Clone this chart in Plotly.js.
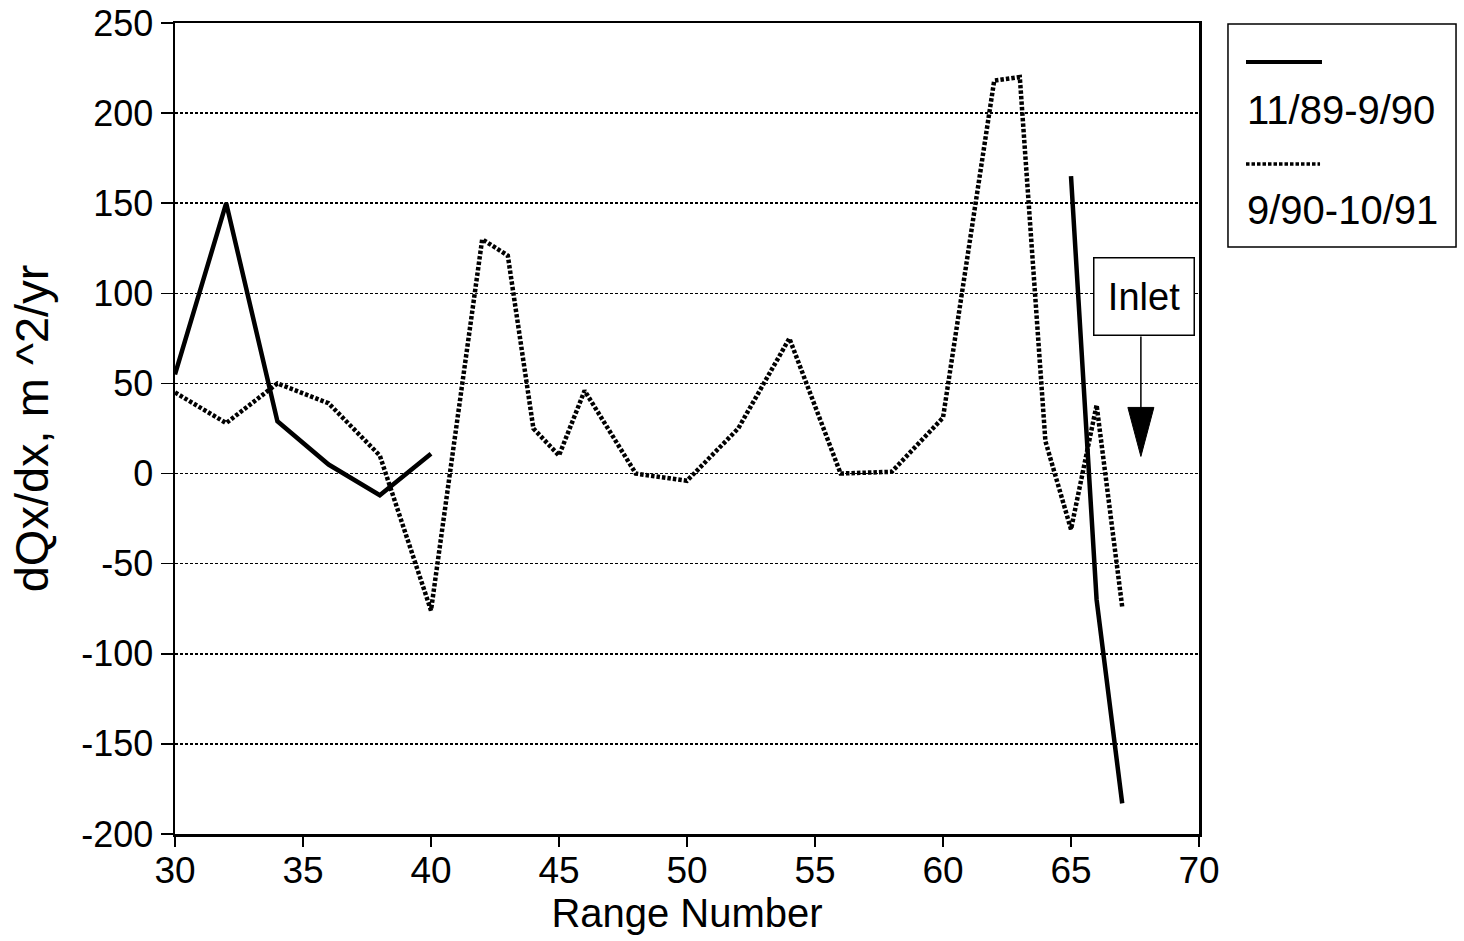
<!DOCTYPE html>
<html>
<head>
<meta charset="utf-8">
<script src="https://cdn.plot.ly/plotly-3.0.1.min.js"></script>
<style>
  html, body { margin: 0; padding: 0; background: #fff; }
  #chart { width: 1464px; height: 941px; }
</style>
</head>
<body>
<div id="chart"></div>
<script>
// Net longshore transport gradient along the beach, by range number
var seriesNames = ['11/89-9/90', '9/90-10/91'];

var rangeA = [30, 32, 34, 36, 38, 40, 41, 65, 66, 67];
var dqdxA  = [55, 150, 29, 5, -12, 11, null, 165, -70, -183];

var rangeB = [30, 32, 34, 36, 38, 40, 42, 43, 44, 45, 46, 48, 50, 52, 54, 56, 58, 60, 62, 63, 64, 65, 66, 67];
var dqdxB  = [45, 28, 50, 39, 10, -76, 130, 121, 25, 10, 46, 0, -4, 25, 75, 0, 1, 31, 218, 220, 18, -31, 38, -74];

var xTicks = [30, 35, 40, 45, 50, 55, 60, 65, 70];
var yTicks = [-200, -150, -100, -50, 0, 50, 100, 150, 200, 250];

// Inlet marker: label box with an arrow pointing down at the inlet position
var INLET_X = 67.73;
var INLET_TIP_Y = 9.5;

var FONT = 'Liberation Sans, Helvetica, Arial, sans-serif';
var DOTS = '3.5px,2px';

var traces = [
  {
    x: rangeA, y: dqdxA, name: seriesNames[0], type: 'scatter', mode: 'lines',
    connectgaps: false,
    line: { color: '#000', width: 4.5 }
  },
  {
    x: rangeB, y: dqdxB, name: seriesNames[1], type: 'scatter', mode: 'lines',
    line: { color: '#000', width: 4.5, dash: DOTS }
  }
];

var layout = {
  width: 1464, height: 941,
  margin: { l: 175, r: 265, t: 23, b: 107 },
  paper_bgcolor: '#fff', plot_bgcolor: '#fff',
  showlegend: false,
  font: { family: FONT, color: '#000', size: 36 },
  xaxis: {
    range: [30, 70], tickvals: xTicks, ticktext: xTicks.map(String),
    showgrid: false, zeroline: false,
    showline: true, mirror: true, linecolor: '#000', linewidth: 2.5,
    ticks: 'outside', ticklen: 10, tickwidth: 1.5, tickcolor: '#000',
    ticklabelstandoff: -8,
    tickfont: { family: FONT, size: 37, color: '#000' },
    title: { text: 'Range Number', font: { family: FONT, size: 40, color: '#000' }, standoff: 4 }
  },
  yaxis: {
    range: [-200, 250], tickvals: yTicks, ticktext: yTicks.map(String),
    showgrid: true, gridcolor: '#000', gridwidth: 1.5, griddash: '3px,2px',
    zeroline: false,
    showline: true, mirror: true, linecolor: '#000', linewidth: 2.5,
    ticks: 'outside', ticklen: 12, tickwidth: 1.5, tickcolor: '#000',
    tickfont: { family: FONT, size: 36, color: '#000' },
    title: { text: 'dQx/dx, m ^2/yr', font: { family: FONT, size: 47, color: '#000' }, standoff: 18 }
  },
  shapes: [
    // legend frame
    { type: 'rect', xref: 'paper', yref: 'paper', x0: 1.0283, x1: 1.251, y0: 0.7238, y1: 0.9988,
      line: { color: '#000', width: 1.5 }, fillcolor: 'rgba(0,0,0,0)' },
    // legend samples
    { type: 'line', xref: 'paper', yref: 'paper', x0: 1.0459, x1: 1.1201, y0: 0.9519, y1: 0.9519,
      line: { color: '#000', width: 4 } },
    { type: 'line', xref: 'paper', yref: 'paper', x0: 1.0459, x1: 1.1182, y0: 0.8261, y1: 0.8261,
      line: { color: '#000', width: 3.5, dash: DOTS } },
    // arrow shaft and head under the Inlet box
    { type: 'line', xref: 'x', yref: 'y', xsizemode: 'pixel', ysizemode: 'pixel',
      xanchor: INLET_X, yanchor: INLET_TIP_Y, x0: 0, x1: 0, y0: 30, y1: 120,
      line: { color: '#000', width: 1.5 } },
    { type: 'path', xref: 'x', yref: 'y', xsizemode: 'pixel', ysizemode: 'pixel',
      xanchor: INLET_X, yanchor: INLET_TIP_Y,
      path: 'M -13 49 L 13 49 L 0 0 Z',
      fillcolor: '#000', line: { color: '#000', width: 1 } }
  ],
  annotations: [
    { xref: 'paper', yref: 'paper', x: 1.0449, y: 0.8927, xanchor: 'left', yanchor: 'middle',
      text: seriesNames[0], showarrow: false, font: { family: FONT, size: 40, color: '#000' } },
    { xref: 'paper', yref: 'paper', x: 1.0449, y: 0.7694, xanchor: 'left', yanchor: 'middle',
      text: seriesNames[1], showarrow: false, font: { family: FONT, size: 40, color: '#000' } },
    { xref: 'x', yref: 'y', x: INLET_X, y: INLET_TIP_Y, xshift: 3, yshift: 160,
      text: 'Inlet', showarrow: false,
      bordercolor: '#000', borderwidth: 1.5, borderpad: 0, bgcolor: '#fff',
      width: 99, height: 76,
      font: { family: FONT, size: 38, color: '#000' } }
  ]
};

Plotly.newPlot('chart', traces, layout, { displayModeBar: false, staticPlot: true });
</script>
</body>
</html>
